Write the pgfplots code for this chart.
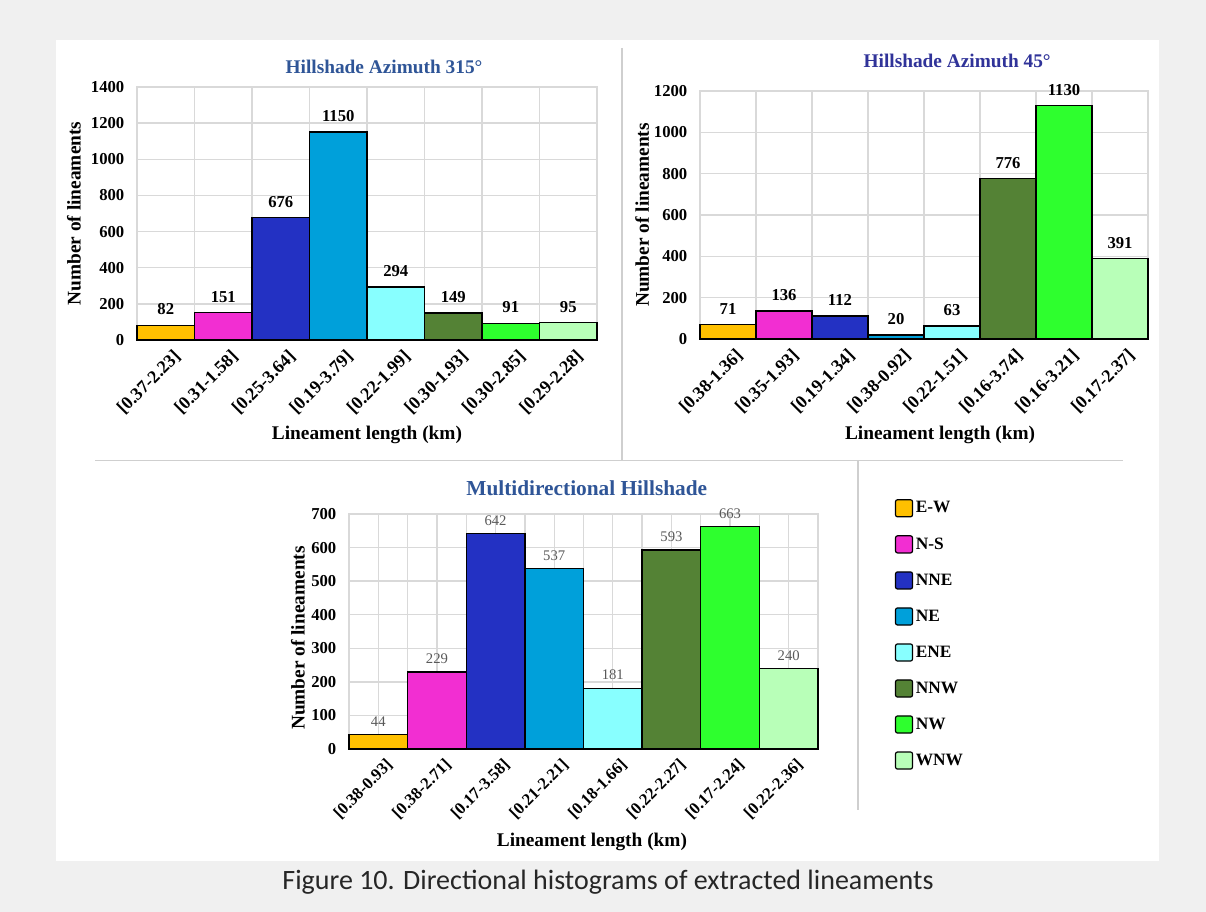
\documentclass[border=0pt]{standalone}
\usepackage{fontspec}
\setmainfont{Liberation Serif}
\newfontfamily\capfont{Carlito}
\usepackage{pgfplots}
\pgfplotsset{compat=1.18}
\definecolor{cEW}{HTML}{FFC000}
\definecolor{cNS}{HTML}{F22ED2}
\definecolor{cNNE}{HTML}{2331C3}
\definecolor{cNE}{HTML}{00A0DA}
\definecolor{cENE}{HTML}{88FFFF}
\definecolor{cNNW}{HTML}{548235}
\definecolor{cNW}{HTML}{2EFF2E}
\definecolor{cWNW}{HTML}{B8FFB8}
\definecolor{gridc}{HTML}{D9D9D9}
\definecolor{tblue}{HTML}{2F5597}
\definecolor{tindigo}{HTML}{303399}
\definecolor{lblgray}{HTML}{595959}
\definecolor{bgc}{HTML}{F0F0F0}
\definecolor{sepc}{HTML}{CFCFCF}

\pgfplotsset{
 mybar/.style={ybar, bar width=1, bar shift=0pt, draw=black, line width=1pt, fill=#1,
   legend image code/.code={\draw[fill=#1,draw=black,line width=0.9pt,rounded corners=1.5pt] (0pt,-6.4pt) rectangle (12.75pt,6.4pt);}},
 panel/.style={scale only axis, xmin=-0.5, xmax=7.5, ymin=0, enlargelimits=false, clip=false,
   xtick={0,...,7}, minor xtick={-0.5,0.5,...,7.5}, xminorgrids, ymajorgrids,
   major tick length=0pt, minor tick length=0pt,
   grid style={draw=gridc, line width=1pt}, minor grid style={draw=gridc, line width=1pt},
   axis line style={draw=gridc, line width=1pt},
   x tick label style={rotate=45, anchor=north east, font=\bfseries\fontsize{13.5}{13.5}\selectfont, inner sep=1pt, yshift=-7pt},
   y tick label style={font=\bfseries\fontsize{12.5}{12.5}\selectfont, xshift=-6pt},
   /pgf/number format/assume math mode=true,
   /pgf/number format/1000 sep={},
   ylabel={Number of lineaments}, xlabel={Lineament length (km)},
   label style={font=\bfseries\fontsize{14.5}{14.5}\selectfont},
   nodes near coords,
   title style={font=\bfseries\fontsize{14.5}{14.5}\selectfont, anchor=center, yshift=0pt},
 }
}
\newcommand{\bars}[8]{%
\addplot[mybar=cEW] coordinates {(0,#1)};
\addplot[mybar=cNS] coordinates {(1,#2)};
\addplot[mybar=cNNE] coordinates {(2,#3)};
\addplot[mybar=cNE] coordinates {(3,#4)};
\addplot[mybar=cENE] coordinates {(4,#5)};
\addplot[mybar=cNNW] coordinates {(5,#6)};
\addplot[mybar=cNW] coordinates {(6,#7)};
\addplot[mybar=cWNW] coordinates {(7,#8)};
}

\begin{document}
\begin{tikzpicture}
\useasboundingbox (0,0) rectangle (904.5pt,684pt);
\fill[bgc] (0,0) rectangle (904.5pt,684pt);
\fill[white] (42pt,38.25pt) rectangle (869.25pt,654pt);
\draw[sepc, line width=1.1pt] (466.5pt,648pt) -- (466.5pt,338.5pt);
\draw[sepc, line width=1.1pt] (71.25pt,338.5pt) -- (842.25pt,338.5pt);
\draw[sepc, line width=1.1pt] (643.5pt,338.5pt) -- (643.5pt,76.5pt);

% Panel 1
\begin{axis}[panel, at={(102.75pt,429pt)}, anchor=south west, width=345pt, height=189.75pt,
  ymax=1400, ytick={0,200,...,1400},
  xticklabels={{[0.37-2.23]},{[0.31-1.58]},{[0.25-3.64]},{[0.19-3.79]},{[0.22-1.99]},{[0.30-1.93]},{[0.30-2.85]},{[0.29-2.28]}},
  title={Hillshade Azimuth 315°}, title style={at={(0.537,1.047)}, text=tblue},
  xlabel style={at={(axis description cs:0.5,-0.375)}, anchor=center},
  ylabel style={at={(axis description cs:-0.137,0.5)}, anchor=center},
  every node near coord/.append style={font=\bfseries\fontsize{12.5}{12.5}\selectfont, text=black, yshift=4pt},
]
\bars{82}{151}{676}{1150}{294}{149}{91}{95}
\end{axis}

% Panel 2
\begin{axis}[panel, at={(525pt,429.75pt)}, anchor=south west, width=336pt, height=186pt,
  ymax=1200, ytick={0,200,...,1200},
  xticklabels={{[0.38-1.36]},{[0.35-1.93]},{[0.19-1.34]},{[0.38-0.92]},{[0.22-1.51]},{[0.16-3.74]},{[0.16-3.21]},{[0.17-2.37]}},
  title={Hillshade Azimuth 45°}, title style={at={(0.574,1.089)}, text=tindigo},
  xlabel style={at={(axis description cs:0.536,-0.387)}, anchor=center},
  ylabel style={at={(axis description cs:-0.129,0.5)}, anchor=center},
  every node near coord/.append style={font=\bfseries\fontsize{12.5}{12.5}\selectfont, text=black, yshift=3.6pt},
]
\bars{71}{136}{112}{20}{63}{776}{1130}{391}
\end{axis}

% Panel 3
\begin{axis}[panel, at={(261.75pt,122.25pt)}, anchor=south west, width=351.75pt, height=176.25pt,
  ymax=700, ytick={0,100,...,700}, xmajorgrids,
  xticklabels={{[0.38-0.93]},{[0.38-2.71]},{[0.17-3.58]},{[0.21-2.21]},{[0.18-1.66]},{[0.22-2.27]},{[0.17-2.24]},{[0.22-2.36]}},
  x tick label style={font=\bfseries\fontsize{12.5}{12.5}\selectfont},
  title={Multidirectional Hillshade}, title style={at={(0.507,1.076)}, text=tblue, font=\bfseries\fontsize{16}{16}\selectfont},
  xlabel style={at={(axis description cs:0.518,-0.396)}, anchor=center},
  ylabel style={at={(axis description cs:-0.109,0.472)}, anchor=center},
  every node near coord/.append style={font=\fontsize{11}{11}\selectfont, text=lblgray, yshift=2.3pt},
  legend style={at={(1.164,1.064)}, anchor=north west, draw=none, fill=none, inner sep=0pt, outer sep=0pt,
    row sep=13pt, font=\bfseries\fontsize{13}{13}\selectfont,
    /tikz/every even column/.append style={column sep=3pt}},
  legend cell align=left,
  legend entries={E-W,N-S,NNE,NE,ENE,NNW,NW,WNW},
]
\bars{44}{229}{642}{537}{181}{593}{663}{240}
\end{axis}

\node[font=\capfont\fontsize{21}{21}\selectfont, text=black!85] at (456pt,22.5pt) {Figure 10. Directional histograms of extracted lineaments};
\end{tikzpicture}
\end{document}
